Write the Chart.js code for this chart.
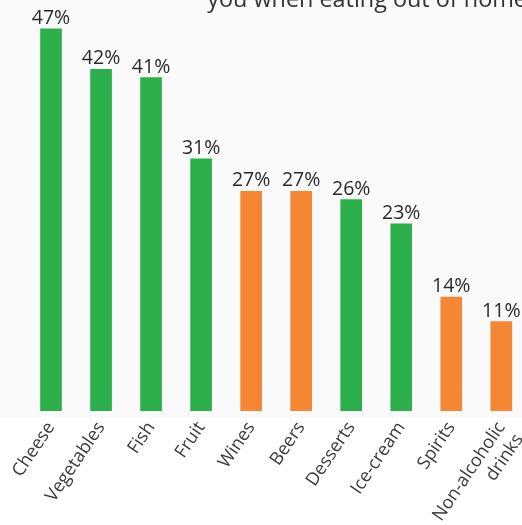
<!DOCTYPE html>
<html>
<head>
<meta charset="utf-8">
<script src="https://cdn.jsdelivr.net/npm/chart.js@4/dist/chart.umd.min.js"></script>
<style>
  html, body { margin: 0; padding: 0; background: #fff; overflow: hidden; width: 522px; height: 525px; }
  #chart { position: absolute; left: 0; top: -16px; }
</style>
</head>
<body>
<canvas id="chart" width="545" height="541"></canvas>
<script>
const categories = ['Cheese', 'Vegetables', 'Fish', 'Fruit', 'Wines', 'Beers', 'Desserts', 'Ice-cream', 'Spirits', ['Non-alcoholic', 'drinks']];
const shares = [47, 42, 41, 31, 27, 27, 26, 23, 14, 11];
const kinds = ['food', 'food', 'food', 'food', 'drink', 'drink', 'food', 'food', 'drink', 'drink'];
const titleText = 'you when eating out of home';

const kindColors = { food: '#2db04b', drink: '#f58634' };

const backdrop = {
  id: 'backdrop',
  beforeDraw(chart) {
    const { ctx, width, height, chartArea } = chart;
    ctx.save();
    ctx.fillStyle = '#ffffff';
    ctx.fillRect(0, 0, width, height);
    ctx.fillStyle = '#fafafa';
    ctx.fillRect(0, 0, width, chartArea.bottom + 7);
    ctx.restore();
  }
};

const valueLabels = {
  id: 'valueLabels',
  afterDatasetsDraw(chart) {
    const { ctx } = chart;
    const meta = chart.getDatasetMeta(0);
    ctx.save();
    ctx.font = '19.5px "Open Sans"';
    ctx.fillStyle = '#2b2b2b';
    ctx.textAlign = 'center';
    ctx.textBaseline = 'alphabetic';
    meta.data.forEach((bar, i) => {
      ctx.fillText(shares[i] + '%', bar.x, bar.y - 5);
    });
    ctx.restore();
  }
};

const ctx = document.getElementById('chart').getContext('2d');

new Chart(ctx, {
  type: 'bar',
  data: {
    labels: categories,
    datasets: [
      {
        data: shares,
        backgroundColor: kinds.map(k => kindColors[k]),
        borderWidth: 0,
        barThickness: 21
      }
    ]
  },
  options: {
    responsive: false,
    animation: false,
    devicePixelRatio: 1,
    layout: {
      padding: { left: 26, right: 18, top: 0, bottom: 0 }
    },
    plugins: {
      legend: { display: false },
      tooltip: { enabled: false },
      title: {
        display: true,
        text: titleText,
        align: 'end',
        color: '#333333',
        font: { family: 'Open Sans', size: 23.4, weight: 'normal', lineHeight: 1.2 },
        padding: { top: 2, bottom: 0 }
      }
    },
    scales: {
      x: {
        grid: { display: false, drawTicks: false },
        border: { display: false },
        ticks: {
          autoSkip: false,
          minRotation: 56,
          maxRotation: 56,
          padding: 7,
          color: '#3a3a3a',
          font: { family: 'Open Sans', size: 18 }
        },
        afterFit(scale) {
          scale.height = 114;
        }
      },
      y: {
        display: false,
        min: 0,
        max: 48.8
      }
    }
  },
  plugins: [backdrop, valueLabels]
});
</script>
</body>
</html>
